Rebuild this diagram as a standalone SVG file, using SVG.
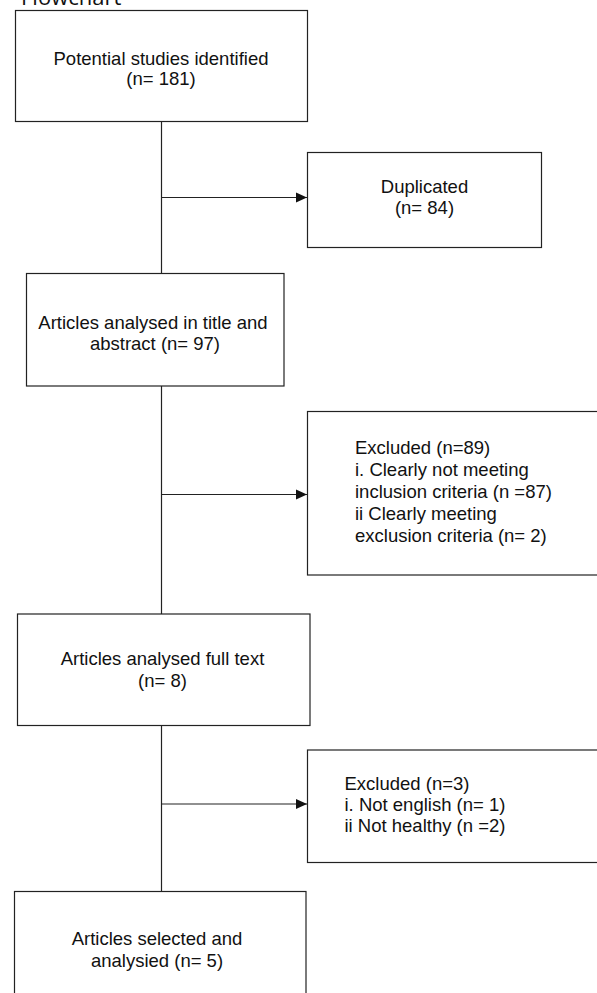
<svg xmlns="http://www.w3.org/2000/svg" width="597" height="993" viewBox="0 0 597 993">
<defs>
<style>
.box{fill:#fff;stroke:#222;stroke-width:1.2}
.t{font-family:"Liberation Sans",Arial,sans-serif;font-size:18.5px;fill:#111}
.c{text-anchor:middle}
.ln{fill:none;stroke:#222;stroke-width:1.2}
</style>
<marker id="ah" markerUnits="userSpaceOnUse" markerWidth="12" markerHeight="12" viewBox="0 0 12 12" refX="11" refY="6" orient="auto">
<path d="M0,1 L11,6 L0,11 Z" fill="#111"/>
</marker>
</defs>
<rect width="597" height="993" fill="#fff"/>
<text x="21" y="5" font-family="'Open Sans',sans-serif" font-size="22" fill="#111">Flowchart</text>
<g id="connectors">
<path class="ln" d="M161.5,121.5 V273.5"/>
<path class="ln" d="M161.5,386 V614"/>
<path class="ln" d="M161.5,725.5 V891.5"/>
<path class="ln" d="M161.5,197.5 H307" marker-end="url(#ah)"/>
<path class="ln" d="M161.5,494.5 H307" marker-end="url(#ah)"/>
<path class="ln" d="M161.5,804 H307" marker-end="url(#ah)"/>
</g>
<g id="n1">
<rect class="box" x="15.5" y="10.5" width="292" height="111"/>
<text class="t c" x="161" y="64.5">Potential studies identified</text>
<text class="t c" x="161" y="85">(n= 181)</text>
</g>
<g id="n2">
<rect class="box" x="307.5" y="152.5" width="234" height="95"/>
<text class="t c" x="424.5" y="192.5">Duplicated</text>
<text class="t c" x="424.5" y="214">(n= 84)</text>
</g>
<g id="n3">
<rect class="box" x="26.5" y="273.5" width="257.5" height="112.5"/>
<text class="t c" x="153" y="328.5">Articles analysed in title and</text>
<text class="t c" x="155" y="350">abstract (n= 97)</text>
</g>
<g id="n4">
<rect class="box" x="307.5" y="411.5" width="300" height="163.5"/>
<text class="t" x="355" y="453.5">Excluded (n=89)</text>
<text class="t" x="355" y="475.5">i. Clearly not meeting</text>
<text class="t" x="355" y="497.5">inclusion criteria (n =87)</text>
<text class="t" x="355" y="519.5">ii Clearly meeting</text>
<text class="t" x="355" y="541.5">exclusion criteria (n= 2)</text>
</g>
<g id="n5">
<rect class="box" x="17.5" y="614" width="292.5" height="111.5"/>
<text class="t c" x="162.5" y="665">Articles analysed full text</text>
<text class="t c" x="162.5" y="687">(n= 8)</text>
</g>
<g id="n6">
<rect class="box" x="307.5" y="750" width="300" height="112.5"/>
<text class="t" x="344.5" y="790">Excluded (n=3)</text>
<text class="t" x="344.5" y="811">i. Not english (n= 1)</text>
<text class="t" x="344.5" y="832">ii Not healthy (n =2)</text>
</g>
<g id="n7">
<rect class="box" x="14.5" y="891.5" width="291.5" height="120"/>
<text class="t c" x="157" y="945">Articles selected and</text>
<text class="t c" x="157" y="966.5">analysied (n= 5)</text>
</g>
</svg>
